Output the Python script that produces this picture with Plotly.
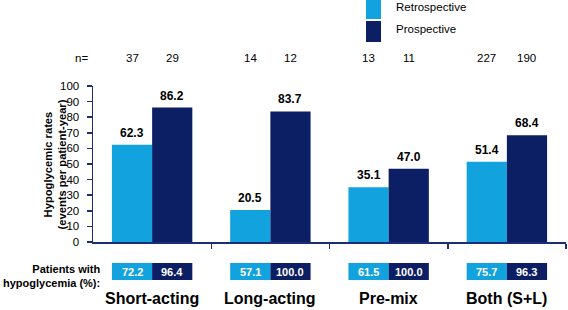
import plotly.graph_objects as go

categories = ["Short-acting", "Long-acting", "Pre-mix", "Both (S+L)"]
retro_rates = [62.3, 20.5, 35.1, 51.4]
pro_rates = [86.2, 83.7, 47.0, 68.4]
retro_n = [37, 14, 13, 227]
pro_n = [29, 12, 11, 190]
retro_pct = ["72.2", "57.1", "61.5", "75.7"]
pro_pct = ["96.4", "100.0", "100.0", "96.3"]
y_ticks = [0, 10, 20, 30, 40, 50, 60, 70, 80, 90, 100]

LIGHT = "#12A2DD"
DARK = "#0C1E64"
AXIS = "#1C2D78"
FONT = "Liberation Sans, Arial, sans-serif"

W, H = 568, 310
ML, MR, MT, MB = 93, 2, 86, 68
PW, PH = W - ML - MR, H - MT - MB

def px_to_paper_x(px):
    return (px - ML) / PW

def px_to_paper_y(py):
    return (H - MB - py) / PH

x_idx = list(range(len(categories)))
bargap = 0.32
bw = (1 - bargap) / 2
off = bw / 2

fig = go.Figure()
fig.add_trace(go.Bar(x=x_idx, y=retro_rates, name="Retrospective",
                     marker=dict(color=LIGHT, line=dict(width=0)), showlegend=False,
                     hoverinfo="skip"))
fig.add_trace(go.Bar(x=x_idx, y=pro_rates, name="Prospective",
                     marker=dict(color=DARK, line=dict(width=0)), showlegend=False,
                     hoverinfo="skip"))

ann = []
shapes = []
for i in x_idx:
    for dx, v, n, pct, col in [(-off, retro_rates[i], retro_n[i], retro_pct[i], LIGHT),
                               (off, pro_rates[i], pro_n[i], pro_pct[i], DARK)]:
        # value labels
        ann.append(dict(x=i + dx, y=v, xref="x", yref="y", text=f"<b>{v:.1f}</b>",
                        showarrow=False, yanchor="bottom", yshift=3,
                        font=dict(size=12, color="black", family=FONT)))
        # n row
        ann.append(dict(x=i + dx, y=px_to_paper_y(58), xref="x", yref="paper", text=str(n),
                        showarrow=False, yanchor="middle",
                        font=dict(size=11.5, color="black", family=FONT)))
        # patients table
        shapes.append(dict(type="rect", xref="x", yref="paper",
                           x0=i + dx - off, x1=i + dx + off,
                           y0=px_to_paper_y(280), y1=px_to_paper_y(263),
                           fillcolor=col, line=dict(width=0), layer="above"))
        ann.append(dict(x=i + dx, y=px_to_paper_y(271.5), xref="x", yref="paper",
                        text=f"<b>{pct}</b>", showarrow=False, yanchor="middle",
                        font=dict(size=11, color="white", family=FONT)))
    ann.append(dict(x=i, y=px_to_paper_y(298), xref="x", yref="paper",
                    text=f"<b>{categories[i]}</b>", showarrow=False, yanchor="middle",
                    font=dict(size=16, color="black", family=FONT)))

ann.append(dict(x=px_to_paper_x(90), y=px_to_paper_y(58), xref="paper", yref="paper",
                text="n=", showarrow=False, xanchor="right", yanchor="middle",
                font=dict(size=11.5, color="black", family=FONT)))
ann.append(dict(x=px_to_paper_x(102), y=px_to_paper_y(276), xref="paper", yref="paper",
                text="<b>Patients with<br>hypoglycemia (%):</b>", showarrow=False,
                xanchor="right", yanchor="middle", align="right",
                font=dict(size=11, color="black", family=FONT)))
ann.append(dict(x=px_to_paper_x(54.5), y=px_to_paper_y(165), xref="paper", yref="paper",
                text="<b>Hypoglycemic rates<br>(events per patient-year)</b>",
                showarrow=False, textangle=-90, xanchor="center", yanchor="middle",
                font=dict(size=11.2, color="black", family=FONT)))

# legend
for name, col, top, bot, ty in [("Retrospective", LIGHT, 0, 19, 7), ("Prospective", DARK, 21, 42, 29)]:
    shapes.append(dict(type="rect", xref="paper", yref="paper",
                       x0=px_to_paper_x(366), x1=px_to_paper_x(381),
                       y0=px_to_paper_y(bot), y1=px_to_paper_y(top),
                       fillcolor=col, line=dict(width=0)))
    ann.append(dict(x=px_to_paper_x(394), y=px_to_paper_y(ty), xref="paper", yref="paper",
                    text=name, showarrow=False, xanchor="left", yanchor="middle",
                    font=dict(size=11.5, color="black", family=FONT)))

fig.update_layout(
    width=W, height=H,
    margin=dict(l=ML, r=MR, t=MT, b=MB, pad=0),
    paper_bgcolor="white", plot_bgcolor="white",
    barmode="group", bargap=bargap, bargroupgap=0,
    annotations=ann, shapes=shapes,
    font=dict(family=FONT, color="black"),
    hovermode=False,
    xaxis=dict(range=[-0.5, len(categories) - 0.5], tickvals=[0.5, 1.5, 2.5, 3.5],
               ticktext=["", "", "", ""], ticks="outside", ticklen=5, tickwidth=1.5,
               tickcolor=AXIS, showline=True, linecolor=AXIS, linewidth=1.5,
               showgrid=False, zeroline=False, fixedrange=True),
    yaxis=dict(range=[0, 100], tickvals=y_ticks, ticks="outside", ticklen=5, tickwidth=1.5,
               tickcolor=AXIS, showline=True, linecolor=AXIS, linewidth=1.5,
               showgrid=False, zeroline=False, ticklabelstandoff=5, fixedrange=True,
               tickfont=dict(size=11.5, color="black", family=FONT)),
    showlegend=False,
)

fig.write_html("out.html", config={"displayModeBar": False, "staticPlot": True})

# remove default page margins so the figure sits at the window's top-left corner
with open("out.html", "r", encoding="utf-8") as f:
    html = f.read()
html = html.replace("<head>", "<head><style>html,body{margin:0;padding:0;overflow:hidden;}</style>", 1)
with open("out.html", "w", encoding="utf-8") as f:
    f.write(html)
